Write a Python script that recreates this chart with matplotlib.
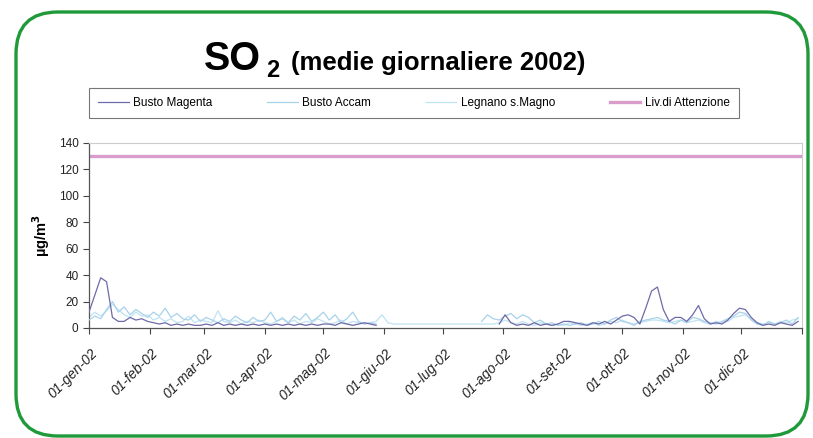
import matplotlib
matplotlib.use("Agg")
import matplotlib.pyplot as plt
from matplotlib.patches import FancyBboxPatch
from matplotlib.transforms import IdentityTransform, ScaledTranslation
import numpy as np

plt.rcParams['font.family'] = ['Liberation Sans', 'DejaVu Sans']

# daily means sampled every 3 days from 01-gen-2002
start = np.datetime64('2002-01-01')
step_days = 3
nan = np.nan

busto_magenta = [12, 25, 38, 35, 8, 5, 5, 8, 6, 7,
                 5, 4, 3, 4, 2, 3, 2, 3, 2, 2,
                 3, 2, 4, 2, 3, 2, 3, 2, 3, 2,
                 3, 2, 3, 2, 3, 2, 3, 2, 3, 2,
                 3, 3, 2, 4, 3, 2, 3, 4, 3, 2,
                 nan, nan, nan, nan, nan, nan, nan, nan, nan, nan,
                 nan, nan, nan, nan, nan, nan, nan, nan, nan, nan,
                 3, 10, 4, 2, 3, 2, 4, 2, 3, 2,
                 3, 5, 5, 4, 3, 2, 4, 3, 5, 3,
                 6, 9, 10, 8, 3, 15, 28, 31, 14, 5,
                 8, 8, 5, 10, 17, 7, 3, 4, 3, 6,
                 11, 15, 14, 8, 4, 2, 3, 2, 4, 3,
                 2, 5]

busto_accam = [6, 9, 7, 14, 20, 12, 16, 10, 14, 11,
               8, 12, 9, 15, 8, 11, 7, 6, 10, 5,
               8, 6, 4, 7, 5, 9, 6, 4, 8, 5,
               6, 12, 5, 7, 4, 9, 6, 11, 5, 8,
               12, 6, 10, 4, 7, 12, 5, 3, 4, 3,
               nan, nan, nan, nan, nan, nan, nan, nan, nan, nan,
               nan, nan, nan, nan, nan, nan, nan, 5, 10, 7,
               6, 9, 11, 7, 10, 8, 4, 6, 3, 4,
               2, 3, 2, 3, 4, 2, 3, 5, 3, 6,
               8, 5, 4, 2, 5, 6, 7, 8, 6, 5,
               3, 6, 4, 8, 7, 5, 4, 3, 5, 7,
               9, 12, 11, 6, 3, 2, 5, 3, 4, 6,
               3, 8]

legnano = [8, 12, 9, 13, 18, 14, 10, 8, 12, 9,
           10, 6, 8, 5, 7, 4, 5, 9, 4, 6,
           5, 4, 13, 5, 4, 6, 3, 5, 4, 6,
           4, 3, 5, 8, 4, 6, 3, 5, 4, 7,
           5, 3, 4, 6, 3, 5, 4, 3, 4, 5,
           10, 4, 3, 3, 3, 3, 3, 3, 3, 3,
           3, 3, 3, 3, 3, 3, 3, 3, 3, 3,
           4, 6, 4, 3, 5, 3, 2, 4, 3, 2,
           3, 2, 4, 3, 2, 3, 4, 2, 3, 5,
           4, 6, 4, 3, 4, 5, 6, 6, 5, 4,
           5, 6, 4, 5, 6, 4, 3, 5, 4, 5,
           8, 9, 10, 7, 4, 3, 4, 3, 5, 4,
           6, 7]

soglia_attenzione = 130

mesi = ['gen', 'feb', 'mar', 'apr', 'mag', 'giu',
        'lug', 'ago', 'set', 'ott', 'nov', 'dic']

dates = start + np.arange(len(busto_magenta)) * np.timedelta64(step_days, 'D')
dates = dates.astype('datetime64[D]').astype(object)

fig = plt.figure(figsize=(8.13, 4.38), dpi=100)
ax = fig.add_axes([89/813, 1 - 328/438, 713/813, 185/438])

l1, = ax.plot(dates, busto_magenta, color='#6e6aa8', lw=0.9, label='Busto Magenta', zorder=4)
l2, = ax.plot(dates, busto_accam, color='#a8d2ea', lw=0.9, label='Busto Accam', zorder=3)
l3, = ax.plot(dates, legnano, color='#bfe3f2', lw=0.9, label='Legnano s.Magno', zorder=2)
l4 = ax.axhline(soglia_attenzione, color='#d99ccb', lw=2.4, label='Liv.di Attenzione')

ax.set_xlim(np.datetime64('2002-01-01'), np.datetime64('2003-01-01'))
ax.set_ylim(0, 140)
ax.set_yticks(range(0, 141, 20))

month_starts = [np.datetime64('2002-%02d-01' % (i + 1)) for i in range(12)]
ax.set_xticks(month_starts + [np.datetime64('2003-01-01')])
ax.set_xticklabels([])
# rotated month labels, shifted like the spreadsheet ones
lab_trans = ax.get_xaxis_transform() + ScaledTranslation(0.11, -0.18, fig.dpi_scale_trans)
for d, m in zip(month_starts, mesi):
    ax.text(d, 0, '01-%s-02' % m, transform=lab_trans, rotation=45, ha='right', va='top',
            fontsize=10, style='italic', color='#222222')

ax.tick_params(axis='y', labelsize=8.5, colors='#444444', length=4, width=0.8, labelcolor='#222222')
ax.tick_params(axis='x', length=4, width=0.8, colors='#444444')

for side in ['left', 'bottom']:
    ax.spines[side].set_color('#555555')
    ax.spines[side].set_linewidth(0.9)
for side in ['top', 'right']:
    ax.spines[side].set_color('#cccccc')
    ax.spines[side].set_linewidth(0.8)

ax.set_ylabel('µg/m$^\\mathbf{3}$', fontsize=10.5, fontweight='bold', labelpad=5)

# title
fig.text(204/813, 1 - 70/438, 'SO', fontsize=28.5, fontweight='bold', ha='left', va='baseline')
fig.text(266/813, 1 - 77/438, '2', fontsize=17, fontweight='bold', ha='left', va='baseline')
fig.text(291/813, 1 - 70/438, '(medie giornaliere 2002)', fontsize=18.5, fontweight='bold',
         ha='left', va='baseline')

leg = fig.legend(handles=[l1, l2, l3, l4], loc='center', bbox_to_anchor=(414/813, 1 - 103/438),
                 ncol=4, frameon=True, fancybox=False, handlelength=2.6,
                 handletextpad=0.4, columnspacing=4.6, borderpad=0.8,
                 prop={'family': ['Liberation Sans Narrow', 'Liberation Sans'], 'size': 8.5})
leg.get_frame().set_edgecolor('#555555')
leg.get_frame().set_linewidth(0.8)

border = FancyBboxPatch((16, 2), 792, 424, boxstyle='round,pad=0,rounding_size=42',
                        transform=IdentityTransform(), fill=False,
                        edgecolor='#1e9a3a', linewidth=2.4)
fig.add_artist(border)

fig.savefig('out.png', dpi=100)
